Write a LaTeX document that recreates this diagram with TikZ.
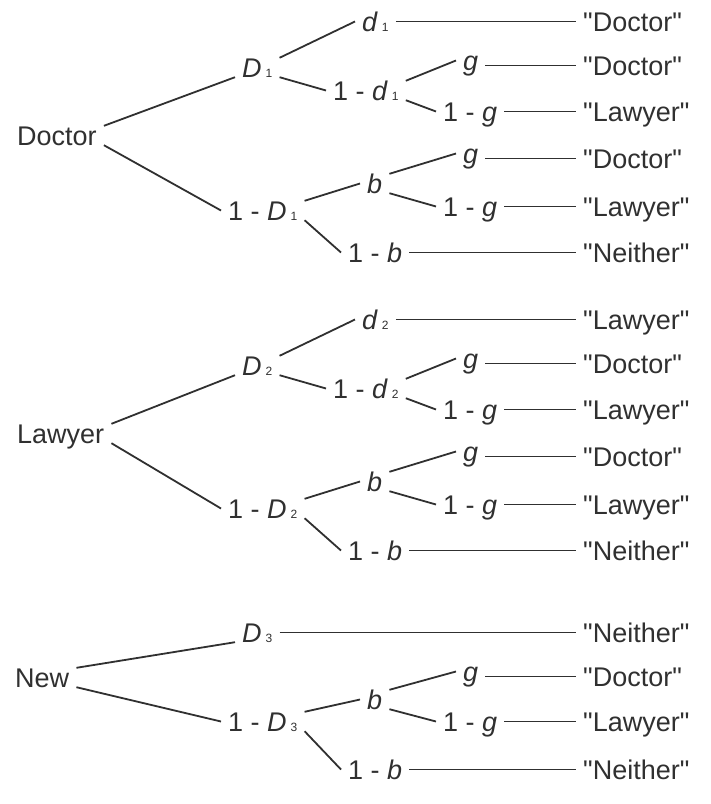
\documentclass[tikz,border=0pt]{standalone}
\usepackage{fontspec}
\setmainfont{Liberation Sans}[Ligatures=TeXOff]
\usetikzlibrary{calc}
\definecolor{Ink}{RGB}{48,48,48}
\newcommand{\idx}[1]{\kern4pt{\fontsize{12}{12}\selectfont #1}}

\begin{document}
\begin{tikzpicture}[x=1pt,y=-1pt,
    lbl/.style={anchor=base west,inner xsep=7pt,inner ysep=0pt,
      text height=19pt,text depth=0pt,text=Ink,font=\fontsize{27}{30}\selectfont},
    branch/.style={draw=Ink,line width=1.8pt}]
  \useasboundingbox (0,0) rectangle (711,804);
  \foreach \n/\rt/\first/\oy in {1/Doctor/Doctor/0,2/Lawyer/Lawyer/298}{
    \node[lbl] (r\n) at (10,145+\oy) {\rt};
    \node[lbl] (D\n) at (235,77+\oy) {\textit{D}\idx{\n}};
    \node[lbl] (nD\n) at (221,220+\oy) {1 - \textit{D}\idx{\n}};
    \node[lbl] (d\n) at (355,31+\oy) {\textit{d}\idx{\n}};
    \node[lbl] (nd\n) at (326,100+\oy) {1 - \textit{d}\idx{\n}};
    \node[lbl] (ga\n) at (456,70+\oy) {\textit{g}};
    \node[lbl] (nga\n) at (436,121+\oy) {1 - \textit{g}};
    \node[lbl] (b\n) at (360,193+\oy) {\textit{b}};
    \node[lbl] (gb\n) at (456,163+\oy) {\textit{g}};
    \node[lbl] (ngb\n) at (436,216+\oy) {1 - \textit{g}};
    \node[lbl] (nb\n) at (341,262+\oy) {1 - \textit{b}};
    \foreach \row/\yy/\word in {1/31/\first,2/75/Doctor,3/121/Lawyer,
        4/168/Doctor,5/216/Lawyer,6/262/Neither}
      \node[lbl] (o\n-\row) at (576,\yy+\oy) {"\word"};
    \draw[branch] (r\n.north east) -- (D\n.south west);
    \draw[branch] (r\n.south east) -- (nD\n.west);
    \draw[branch] (D\n.north east) -- (d\n.west);
    \draw[branch] (D\n.south east) -- (nd\n.west);
    \draw[branch] (nd\n.north east) -- (ga\n.west);
    \draw[branch] (nd\n.south east) -- (nga\n.west);
    \draw[branch] (nD\n.north east) -- (b\n.west);
    \draw[branch] (nD\n.south east) -- (nb\n.west);
    \draw[branch] (b\n.north east) -- (gb\n.west);
    \draw[branch] (b\n.south east) -- (ngb\n.west);
    \foreach \src/\row in {d/1,ga/2,nga/3,gb/4,ngb/5,nb/6}
      \draw[branch] (o\n-\row.west -| \src\n.east) -- (o\n-\row.west);
  }
  \node[lbl] (r3) at (8,687) {New};
  \node[lbl] (D3) at (235,642) {\textit{D}\idx{3}};
  \node[lbl] (nD3) at (221,731) {1 - \textit{D}\idx{3}};
  \node[lbl] (b3) at (360,709) {\textit{b}};
  \node[lbl] (gb3) at (456,681) {\textit{g}};
  \node[lbl] (ngb3) at (436,731) {1 - \textit{g}};
  \node[lbl] (nb3) at (341,779) {1 - \textit{b}};
  \foreach \row/\yy/\word in {1/642/Neither,2/686/Doctor,3/731/Lawyer,4/779/Neither}
    \node[lbl] (o3-\row) at (576,\yy) {"\word"};
  \draw[branch] (r3.north east) -- (D3.south west);
  \draw[branch] (r3.south east) -- (nD3.west);
  \draw[branch] (nD3.north east) -- (b3.west);
  \draw[branch] (nD3.south east) -- (nb3.west);
  \draw[branch] (b3.north east) -- (gb3.west);
  \draw[branch] (b3.south east) -- (ngb3.west);
  \foreach \src/\row in {D3/1,gb3/2,ngb3/3,nb3/4}
    \draw[branch] (o3-\row.west -| \src.east) -- (o3-\row.west);
\end{tikzpicture}
\end{document}
